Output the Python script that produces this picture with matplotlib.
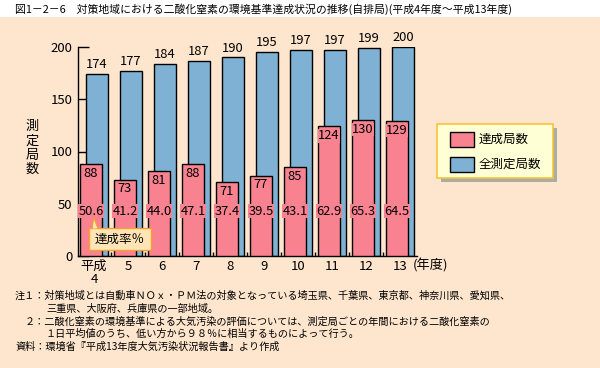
import numpy as np
import matplotlib
matplotlib.use("Agg")
import matplotlib.pyplot as plt
from matplotlib.patches import Rectangle, Polygon

plt.rcParams['font.family'] = ['Noto Sans CJK JP', 'DejaVu Sans']

years = ['平成\n4', '5', '6', '7', '8', '9', '10', '11', '12', '13']
total = [174, 177, 184, 187, 190, 195, 197, 197, 199, 200]
achieved = [88, 73, 81, 88, 71, 77, 85, 124, 130, 129]
rate = ['50.6', '41.2', '44.0', '47.1', '37.4', '39.5', '43.1', '62.9', '65.3', '64.5']

title = '図1－2－6　対策地域における二酸化窒素の環境基準達成状況の推移(自排局)(平成4年度～平成13年度)'
notes = [
    (15, 296, '注１：対策地域とは自動車ＮＯｘ・ＰＭ法の対象となっている埼玉県、千葉県、東京都、神奈川県、愛知県、'),
    (46, 309, '三重県、大阪府、兵庫県の一部地域。'),
    (25, 322, '２：二酸化窒素の環境基準による大気汚染の評価については、測定局ごとの年間における二酸化窒素の'),
    (46, 334, '１日平均値のうち、低い方から９８％に相当するものによって行う。'),
    (15, 347, '資料：環境省『平成13年度大気汚染状況報告書』より作成'),
]

bg = '#FEE5CD'
blue = '#7EB1D3'
pink = '#F98290'

W, H = 600, 368
fig = plt.figure(figsize=(6, 3.68), dpi=100, facecolor=bg)

def fx(x):
    return x / W

def fy(y):
    return 1 - y / H

# white title strip
fig.add_artist(Rectangle((0, fy(17)), 1, 17 / H, transform=fig.transFigure,
                         facecolor='white', edgecolor='none'))
fig.text(fx(15), fy(9), title, fontsize=7.8, va='center', ha='left')

ax = fig.add_axes([fx(78), fy(256), fx(417) - fx(78), fy(47) - fy(256)])
ax.set_facecolor('none')

x = np.arange(len(years))
bw = 0.65
off = 0.09
ax.bar(x + off, total, bw, color=blue, edgecolor='black', linewidth=1.0, zorder=2)
ax.bar(x - off, achieved, bw, color=pink, edgecolor='black', linewidth=1.0, zorder=3)

for i in range(len(years)):
    ax.annotate(str(total[i]), (x[i] + off, total[i]), xytext=(0, 2),
                textcoords='offset points', ha='center', va='bottom', fontsize=9.3)
    ax.annotate(str(achieved[i]), (x[i] - off, achieved[i]), xytext=(0, -2),
                textcoords='offset points', ha='center', va='top', fontsize=9.3,
                bbox=dict(facecolor=pink, edgecolor='none', pad=0.3), zorder=4)
    ax.text(x[i] - off, 43, rate[i], ha='center', va='center', fontsize=9.3,
            bbox=dict(facecolor=pink, edgecolor='none', pad=0.5), zorder=4)

ax.set_xlim(-0.47, 9.5)
ax.set_ylim(0, 200)
ax.set_yticks([0, 50, 100, 150, 200])
ax.tick_params(axis='y', direction='in', length=8, width=1, labelsize=9.5, pad=4)
ax.set_xticks(x)
ax.set_xticklabels(years, fontsize=9.5, linespacing=0.95)
ax.tick_params(axis='x', length=0, pad=3)
ax.set_xticks(np.arange(0.5, 9, 1), minor=True)
ax.tick_params(axis='x', which='minor', direction='in', length=3, width=1)
for s in ['top', 'right']:
    ax.spines[s].set_visible(False)
for s in ['left', 'bottom']:
    ax.spines[s].set_linewidth(1.0)

fig.text(fx(431), fy(266), '(年度)', fontsize=9.5, ha='center', va='center')
fig.text(fx(32), fy(148), '測\n定\n局\n数', fontsize=9.5, ha='center', va='center',
         linespacing=1.15)

# legend box with shadow
fig.add_artist(Rectangle((fx(441), fy(182)), fx(116), 54 / H, transform=fig.transFigure,
                         facecolor='#A8ADA5', edgecolor='none'))
fig.add_artist(Rectangle((fx(437), fy(178)), fx(116), 54 / H, transform=fig.transFigure,
                         facecolor='#FFFFD6', edgecolor='#F8C23A', linewidth=1.2))
fig.add_artist(Rectangle((fx(450), fy(147)), fx(24), 15 / H, transform=fig.transFigure,
                         facecolor=pink, edgecolor='black', linewidth=1.0))
fig.add_artist(Rectangle((fx(450), fy(172)), fx(24), 15 / H, transform=fig.transFigure,
                         facecolor=blue, edgecolor='black', linewidth=1.0))
fig.text(fx(479), fy(139.5), '達成局数', fontsize=9, va='center', ha='left')
fig.text(fx(479), fy(164.5), '全測定局数', fontsize=9, va='center', ha='left')

# callout for rate
fig.add_artist(Polygon([(fx(92), fy(229)), (fx(94), fy(218)), (fx(98), fy(229))],
                       closed=True, transform=fig.transFigure, facecolor='#FFE4B5',
                       edgecolor='#F5A030', linewidth=1.0, zorder=5))
fig.add_artist(Rectangle((fx(89), fy(250)), fx(62), 22 / H, transform=fig.transFigure,
                         facecolor='#FFE4B5', edgecolor='#F5A030', linewidth=1.0, zorder=5))
fig.add_artist(Polygon([(fx(92.8), fy(228.5)), (fx(94), fy(220)), (fx(97.2), fy(228.5))],
                       closed=True, transform=fig.transFigure, facecolor='#FFE4B5',
                       edgecolor='none', zorder=6))
fig.text(fx(120), fy(239), '達成率％', fontsize=9, ha='center', va='center', zorder=7)

for nx, ny, t in notes:
    fig.text(fx(nx), fy(ny), t, fontsize=7.3, ha='left', va='center')

fig.savefig('out.png', dpi=100, facecolor=bg)
